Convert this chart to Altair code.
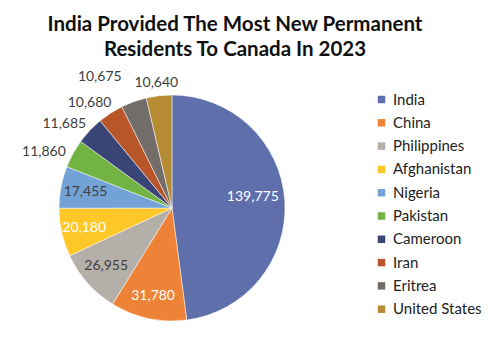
import altair as alt
import pandas as pd

countries = ["India", "China", "Philippines", "Afghanistan", "Nigeria",
             "Pakistan", "Cameroon", "Iran", "Eritrea", "United States"]
values = [139775, 31780, 26955, 20180, 17455, 11860, 11685, 10680, 10675, 10640]
palette = ["#5F6FAC", "#EE8236", "#B5AFAA", "#FFC828", "#73A3D6",
           "#72B343", "#3A4577", "#B8562A", "#726D69", "#B58C33"]

df = pd.DataFrame({"country": countries, "value": values, "idx": list(range(len(countries)))})

CX, CY, R = 172, 148, 113
FONT = "Lato"

base = alt.Chart(df).encode(
    theta=alt.Theta("value:Q", stack=True),
    order=alt.Order("idx:Q", sort="ascending"),
)

arcs = base.mark_arc(outerRadius=R, stroke="white", strokeWidth=0.5).encode(
    x=alt.value(CX), y=alt.value(CY),
    color=alt.Color(
        "country:N",
        scale=alt.Scale(domain=countries, range=palette),
        sort=countries,
        legend=alt.Legend(
            title=None, orient="none", legendX=374, legendY=32,
            symbolType="square", symbolSize=56, symbolStrokeWidth=0,
            labelFont=FONT, labelFontSize=15, labelColor="#222222",
            rowPadding=7.3, labelOffset=4,
        ),
    ),
)


def labels(names, radius, dx, dy, color):
    cond = " || ".join(f"datum.country == '{n}'" for n in names)
    return base.transform_calculate(
        lab=f"({cond}) ? format(datum.value, ',') : ''"
    ).mark_text(
        radius=radius, dx=dx, dy=dy, font=FONT, fontSize=14, color=color
    ).encode(x=alt.value(CX), y=alt.value(CY), text="lab:N")


layers = [
    arcs,
    labels(["India"], 88, -7, -5, "white"),
    labels(["China", "Afghanistan"], 90, 0, 0, "white"),
    labels(["Philippines", "Nigeria"], 88, 0, 0, "#404040"),
    labels(["Pakistan", "Cameroon", "Iran"], 137, -8, 10, "#404040"),
    labels(["Eritrea"], 137, -26, -2, "#404040"),
    labels(["United States"], 137, 0, 11, "#404040"),
]

chart = alt.layer(*layers).properties(
    width=500, height=294,
    background="white",
    padding={"top": 60, "left": 0, "right": 0, "bottom": 0},
    autosize=alt.AutoSizeParams(type="none"),
    title=alt.TitleParams(
        ["India Provided The Most New Permanent", "Residents To Canada In 2023"],
        font=FONT, fontSize=20.5, fontWeight="bold", color="#111111",
        anchor="middle", dx=-15, lineHeight=25, offset=0,
    ),
).configure_view(stroke=None)

chart.save("out.html", embed_options={"renderer": "svg", "actions": False})
